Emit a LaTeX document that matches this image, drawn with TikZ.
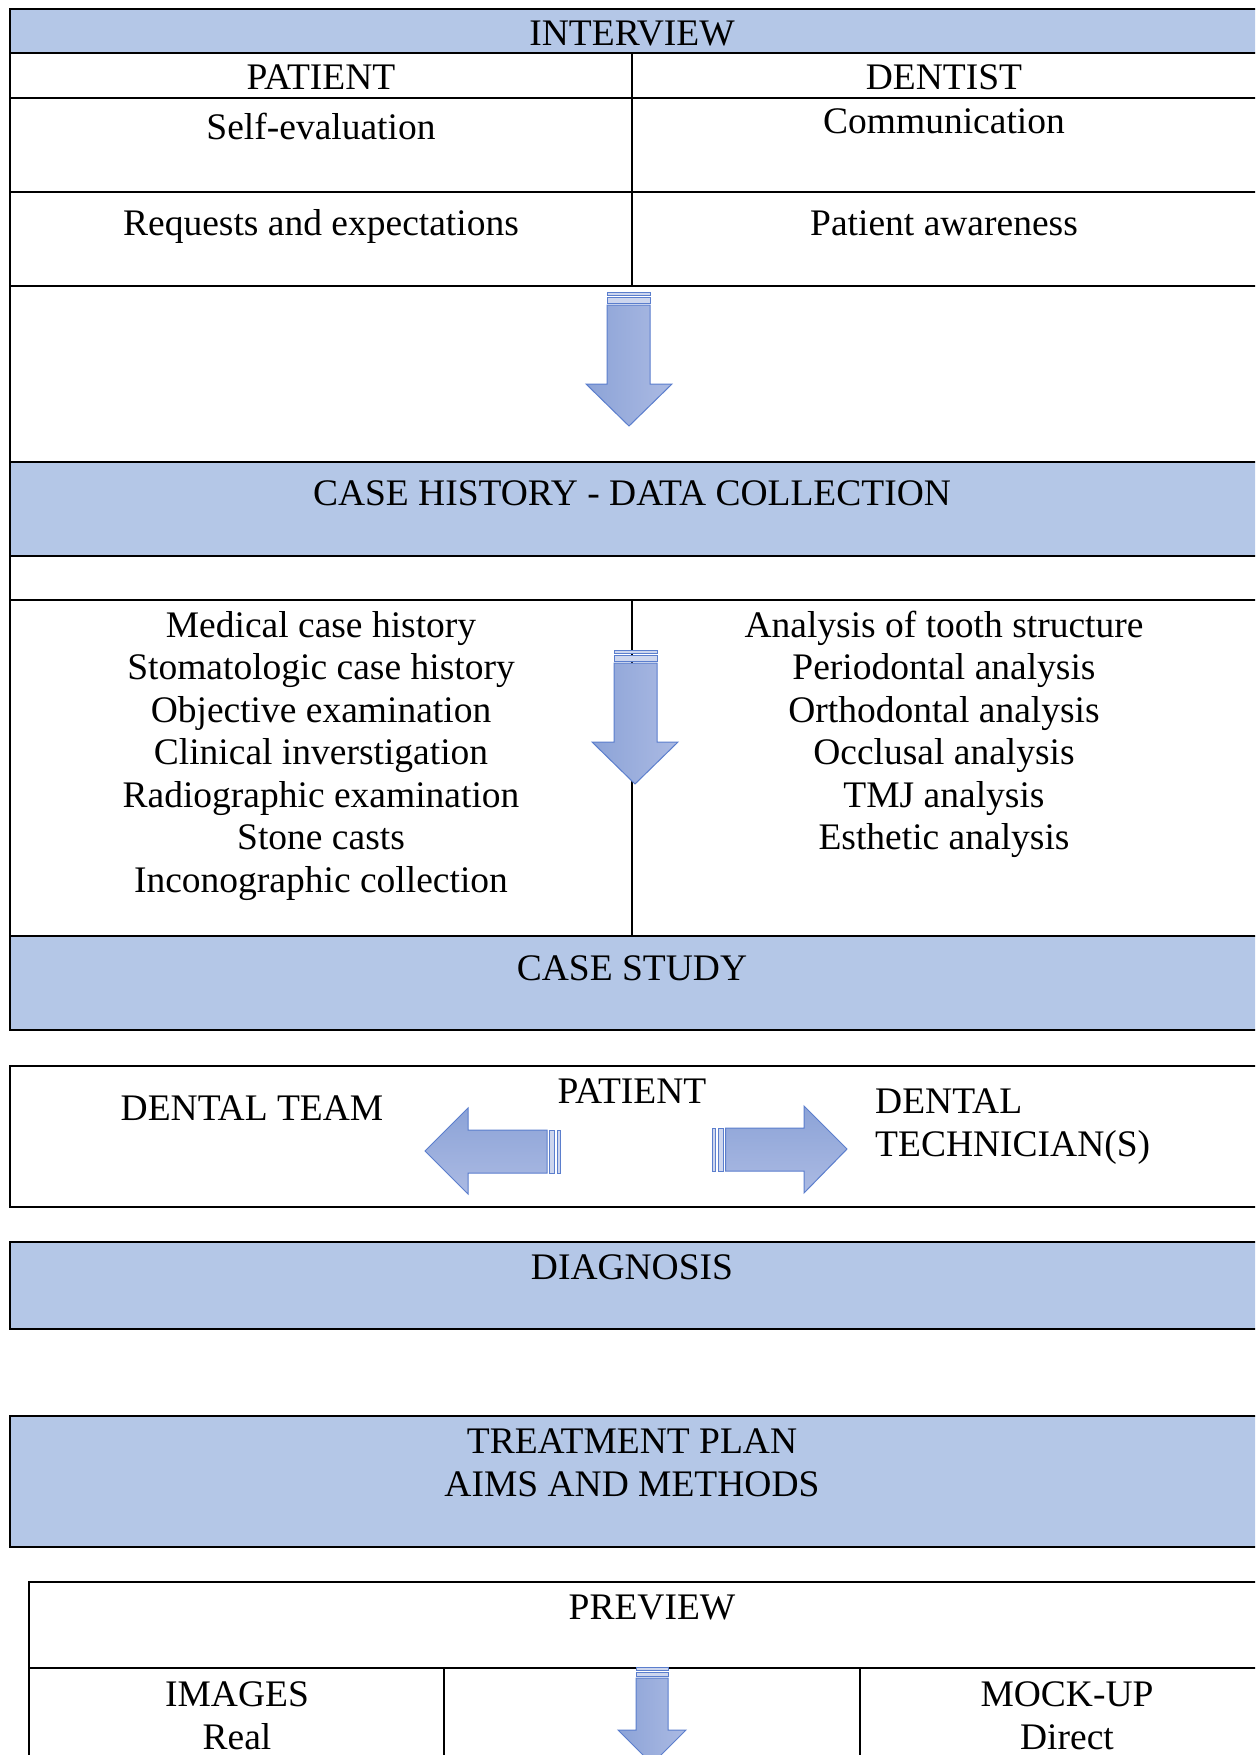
\documentclass[tikz,border=0pt]{standalone}
\usepackage{fontspec}
\setmainfont{Liberation Serif}
\definecolor{band}{HTML}{B4C7E7}
\definecolor{arrL}{HTML}{8CA3D7}
\definecolor{arrR}{HTML}{ABBAE3}
\definecolor{arrEdge}{HTML}{5B7ECD}
\tikzset{
  rule/.style={line width=1.7pt, black},
  midrule/.style={line width=1.3pt, black},
  bandfill/.style={fill=band},
  txt/.style={anchor=base, inner sep=0pt, yshift=-2pt, font=\fontsize{37.5}{42.5}\selectfont},
  txtw/.style={txt, anchor=base west},
  vbody/.style={left color=arrL, right color=arrR, draw=arrEdge, line width=1pt, line join=miter},
  hbody/.style={top color=arrL, bottom color=arrR, draw=arrEdge, line width=1pt, line join=miter},
}
\begin{document}
\begin{tikzpicture}[x=1pt, y=-1pt]
\useasboundingbox (0,0) rectangle (1255,1755);
\clip (0,0) rectangle (1255,1755);
\fill[white] (0,0) rectangle (1255,1755);

% ---------------- first table ----------------
\fill[bandfill] (10,9) rectangle (1262,53);
\fill[bandfill] (10,462) rectangle (1262,556);
\fill[bandfill] (10,936) rectangle (1262,1030);
\foreach \yy in {9,53,98,192,286,462,556,600,936,1030}
  \draw[rule] (10,\yy) -- (1262,\yy);
\draw[rule] (10,8.15) -- (10,1030.85);
\draw[midrule] (632,53) -- (632,286);
\draw[midrule] (632,600) -- (632,936);

\node[txt] (interview) at (632,44) {INTERVIEW};
\node[txt] (patientH) at (321,88) {PATIENT};
\node[txt] (dentistH) at (944,88) {DENTIST};
\node[txt] (selfeval) at (321,138) {Self-evaluation};
\node[txt] (commun) at (944,132) {Communication};
\node[txt] (requests) at (321,233) {Requests and expectations};
\node[txt] (awareness) at (944,233) {Patient awareness};

% arrow 1
\fill[arrR!60, draw=arrEdge, line width=0.8pt] (607,292) rectangle (650,295);
\fill[arrR!60, draw=arrEdge, line width=0.8pt] (607,297.5) rectangle (650,303);
\path[vbody] (607,305) -- (650,305) -- (650,384) -- (672,384) -- (629,426)
  -- (586,384) -- (607,384) -- cycle;

\node[txt] (casehist) at (632,503) {CASE HISTORY - DATA COLLECTION};

\node[txt] (l1) at (321,635) {Medical case history};
\node[txt] (l2) at (321,677.5) {Stomatologic case history};
\node[txt] (l3) at (321,720) {Objective examination};
\node[txt] (l4) at (321,762.5) {Clinical inverstigation};
\node[txt] (l5) at (321,805) {Radiographic examination};
\node[txt] (l6) at (321,847.5) {Stone casts};
\node[txt] (l7) at (321,890) {Inconographic collection};

\node[txt] (r1) at (944,635) {Analysis of tooth structure};
\node[txt] (r2) at (944,677.5) {Periodontal analysis};
\node[txt] (r3) at (944,720) {Orthodontal analysis};
\node[txt] (r4) at (944,762.5) {Occlusal analysis};
\node[txt] (r5) at (944,805) {TMJ analysis};
\node[txt] (r6) at (944,847.5) {Esthetic analysis};

% arrow 2
\fill[arrR!60, draw=arrEdge, line width=0.8pt] (614,650) rectangle (657,653);
\fill[arrR!60, draw=arrEdge, line width=0.8pt] (614,655.5) rectangle (657,661);
\path[vbody] (614,663) -- (657,663) -- (657,742) -- (678,742) -- (635,784)
  -- (592,742) -- (614,742) -- cycle;

\node[txt] (casestudy) at (632,978) {CASE STUDY};

% ---------------- patient box ----------------
\draw[rule] (1262,1066) -- (10,1066) -- (10,1207) -- (1262,1207);
\node[txt] (team) at (252,1118) {DENTAL TEAM};
\node[txt] (patient) at (632,1101) {PATIENT};
\node[txtw] (tech1) at (875,1111) {DENTAL};
\node[txtw] (tech2) at (875,1154) {TECHNICIAN(S)};

% left arrow
\fill[arrR!60, draw=arrEdge, line width=0.8pt] (557,1130) rectangle (560,1173);
\fill[arrR!60, draw=arrEdge, line width=0.8pt] (549,1130) rectangle (554.5,1173);
\path[hbody] (547,1130) -- (468,1130) -- (468,1108) -- (425,1151) -- (468,1194)
  -- (468,1173) -- (547,1173) -- cycle;
% right arrow
\fill[arrR!60, draw=arrEdge, line width=0.8pt] (712,1128) rectangle (715.5,1171);
\fill[arrR!60, draw=arrEdge, line width=0.8pt] (718,1128) rectangle (723.3,1171);
\path[hbody] (725.5,1128) -- (804,1128) -- (804,1106) -- (847,1149) -- (804,1193)
  -- (804,1171) -- (725.5,1171) -- cycle;

% ---------------- diagnosis ----------------
\fill[bandfill] (10,1242) rectangle (1262,1329);
\draw[rule] (1262,1242) -- (10,1242) -- (10,1329) -- (1262,1329);
\node[txt] (diagnosis) at (632,1277) {DIAGNOSIS};

% ---------------- treatment plan ----------------
\fill[bandfill] (10,1416) rectangle (1262,1547);
\draw[rule] (1262,1416) -- (10,1416) -- (10,1547) -- (1262,1547);
\node[txt] (plan1) at (632,1451) {TREATMENT PLAN};
\node[txt] (plan2) at (632,1494) {AIMS AND METHODS};

% ---------------- preview ----------------
\draw[rule] (1262,1582) -- (29,1582) -- (29,1760);
\draw[rule] (29,1668) -- (1262,1668);
\draw[midrule] (444,1668) -- (444,1760);
\draw[midrule] (860,1668) -- (860,1760);
\node[txt] (preview) at (652,1617) {PREVIEW};
\node[txt] (images) at (237,1704) {IMAGES};
\node[txt] (real) at (237,1747) {Real};
\node[txt] (mockup) at (1067,1704) {MOCK-UP};
\node[txt] (direct) at (1067,1747) {Direct};

% arrow 3
\fill[arrR!60, draw=arrEdge, line width=0.8pt] (636,1667) rectangle (668,1670);
\fill[arrR!60, draw=arrEdge, line width=0.8pt] (636,1672) rectangle (668,1676.5);
\path[vbody] (636,1678) -- (668,1678) -- (668,1730) -- (686,1730) -- (652,1764)
  -- (618,1730) -- (636,1730) -- cycle;
\end{tikzpicture}
\end{document}
